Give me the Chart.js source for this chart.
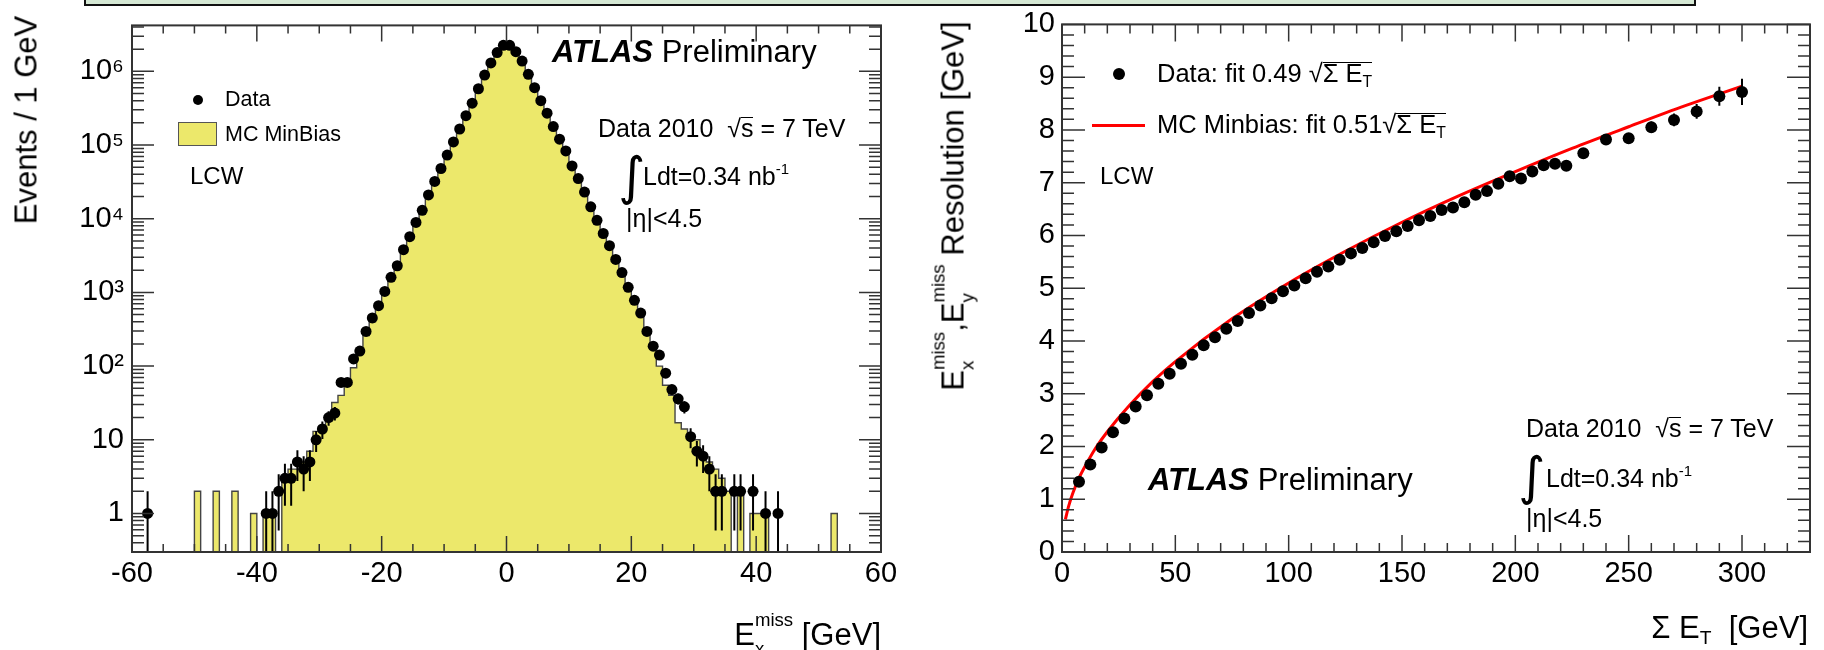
<!DOCTYPE html>
<html><head><meta charset="utf-8">
<script src="https://cdn.jsdelivr.net/npm/chart.js@4.4.1/dist/chart.umd.min.js"></script>
<style>
html,body{margin:0;padding:0;background:#fff;}
#wrap{position:relative;width:1824px;height:650px;overflow:hidden;font-family:"Liberation Sans",Arial,Helvetica,sans-serif;color:#000;}
canvas{position:absolute;top:0;}
.t{position:absolute;white-space:nowrap;line-height:1;}
.rot{transform:translate(-50%,-50%) rotate(-90deg);}
.ss{display:inline-block;position:relative;font-size:0.6em;line-height:1;}
.ss .u{position:relative;top:-1.02em;}
.ss .d{position:absolute;left:0;top:0.54em;}
.sb{font-size:0.62em;position:relative;top:0.32em;}
.sp{font-size:0.6em;position:relative;top:-0.75em;}
.ovl{display:inline-block;border-top:1.5px solid #000;line-height:0.86;padding-top:0;}
.integ{font-family:"DejaVu Sans",sans-serif;}
</style>
</head><body>
<div id="wrap">
<canvas id="c1" width="912" height="650" style="left:0;width:912px;height:650px"></canvas>
<canvas id="c2" width="912" height="650" style="left:912px;width:912px;height:650px"></canvas>

<!-- top band -->
<div style="position:absolute;left:84px;top:-10px;width:1612px;height:16px;box-sizing:border-box;border:2px solid #111;background:#d5e8d4"></div>

<!-- left plot texts -->
<div class="t rot" style="left:26px;top:120px;font-size:31px">Events / 1 GeV</div>
<div class="t" style="right:943px;top:619px;font-size:31px">E<span class="ss"><span class="u">miss</span><span class="d">x</span></span> [GeV]</div>
<div class="t" style="left:552px;top:36px;font-size:31px"><b><i>ATLAS</i></b> Preliminary</div>
<div class="t" style="left:598px;top:116px;font-size:25px">Data 2010 &nbsp;√<span class="ovl">s</span> = 7 TeV</div>
<div class="t integ" style="left:618px;top:150px;font-size:52px">∫</div>
<div class="t" style="left:643px;top:164px;font-size:25px">Ldt=0.34 nb<span class="sp">-1</span></div>
<div class="t" style="left:626px;top:206px;font-size:25px">|η|&lt;4.5</div>
<div style="position:absolute;left:193px;top:95px;width:10px;height:10px;border-radius:50%;background:#000"></div>
<div class="t" style="left:225px;top:89px;font-size:21.5px">Data</div>
<div style="position:absolute;left:178px;top:122px;width:39px;height:24px;box-sizing:border-box;border:1.5px solid #555;background:#ece86b"></div>
<div class="t" style="left:225px;top:124px;font-size:21.5px">MC MinBias</div>
<div class="t" style="left:190px;top:164px;font-size:24px">LCW</div>

<!-- right plot texts -->
<div class="t rot" style="left:953px;top:206px;font-size:31px">E<span class="ss"><span class="u">miss</span><span class="d">x</span></span>,E<span class="ss"><span class="u">miss</span><span class="d">y</span></span> Resolution [GeV]</div>
<div class="t" style="right:16px;top:612px;font-size:31px">Σ E<span class="sb">T</span> &nbsp;[GeV]</div>
<div style="position:absolute;left:1112.5px;top:68px;width:12px;height:12px;border-radius:50%;background:#000"></div>
<div class="t" style="left:1157px;top:61px;font-size:25.5px">Data: fit 0.49 √<span class="ovl">Σ E<span class="sb">T</span></span></div>
<div style="position:absolute;left:1092px;top:123.5px;width:53px;height:3px;background:#ff0000"></div>
<div class="t" style="left:1157px;top:112px;font-size:25.5px">MC Minbias: fit 0.51√<span class="ovl">Σ E<span class="sb">T</span></span></div>
<div class="t" style="left:1100px;top:164px;font-size:24px">LCW</div>
<div class="t" style="left:1148px;top:464px;font-size:31px"><b><i>ATLAS</i></b> Preliminary</div>
<div class="t" style="left:1526px;top:416px;font-size:25px">Data 2010 &nbsp;√<span class="ovl">s</span> = 7 TeV</div>
<div class="t integ" style="left:1518px;top:450px;font-size:52px">∫</div>
<div class="t" style="left:1546px;top:466px;font-size:25px">Ldt=0.34 nb<span class="sp">-1</span></div>
<div class="t" style="left:1526px;top:506px;font-size:25px">|η|&lt;4.5</div>
</div>

<script>
// ---------- Left plot: Ex_miss distribution ----------
const xLeftTicks = [-60, -40, -20, 0, 20, 40, 60];
const yLeftTicks = [1, 10, 100, 1000, 10000, 100000, 1000000];
const yLeftLabels = ['1', '10', '10²', '10³', '10⁴', '10⁵', '10⁶'];

// data points: bin centres and event counts (non-empty bins)
const dataX = [-57.5,
  -38.5, -37.5, -36.5, -35.5, -34.5, -33.5, -32.5, -31.5, -30.5, -29.5,
  -28.5, -27.5, -26.5, -25.5, -24.5, -23.5, -22.5, -21.5, -20.5, -19.5,
  -18.5, -17.5, -16.5, -15.5, -14.5, -13.5, -12.5, -11.5, -10.5, -9.5,
  -8.5, -7.5, -6.5, -5.5, -4.5, -3.5, -2.5, -1.5, -0.5, 0.5,
  1.5, 2.5, 3.5, 4.5, 5.5, 6.5, 7.5, 8.5, 9.5, 10.5,
  11.5, 12.5, 13.5, 14.5, 15.5, 16.5, 17.5, 18.5, 19.5, 20.5,
  21.5, 22.5, 23.5, 24.5, 25.5, 26.5, 27.5, 28.5, 29.5, 30.5,
  31.5, 32.5, 33.5, 34.5, 36.5, 37.5, 39.5, 41.5, 43.5];
const dataY = [1,
  1, 1, 2, 3, 3, 5, 4, 5, 10, 14,
  20, 23, 60, 60, 125, 160, 295, 450, 660, 1030,
  1600, 2300, 3800, 5700, 8900, 13000, 21000, 32000, 48000, 73000,
  110000, 165000, 250000, 370000, 580000, 890000, 1300000, 1800000, 2250000, 2250000,
  1850000, 1380000, 910000, 600000, 400000, 270000, 178000, 120000, 83000, 52000,
  35000, 23000, 14500, 9500, 6300, 4300, 2800, 1860, 1170, 780,
  525, 295, 186, 141, 80, 48, 36, 28, 11, 7,
  6, 4, 2, 2, 2, 2, 2, 1, 1];

// MC histogram: lower bin edges (1 GeV bins) and contents
const mcBinLow = [-60,-59,-58,-57,-56,-55,-54,-53,-52,-51,
  -50,-49,-48,-47,-46,-45,-44,-43,-42,-41,
  -40,-39,-38,-37,-36,-35,-34,-33,-32,-31,
  -30,-29,-28,-27,-26,-25,-24,-23,-22,-21,
  -20,-19,-18,-17,-16,-15,-14,-13,-12,-11,
  -10,-9,-8,-7,-6,-5,-4,-3,-2,-1,
  0,1,2,3,4,5,6,7,8,9,
  10,11,12,13,14,15,16,17,18,19,
  20,21,22,23,24,25,26,27,28,29,
  30,31,32,33,34,35,36,37,38,39,
  40,41,42,43,44,45,46,47,48,49,
  50,51,52,53,54,55,56,57,58,59];
const mcCounts = [0,0,0,0,0,0,0,0,0,0,
  2,0,0,2,0,0,2,0,0,1,
  0,1,1,0,3,4,4,5,7,13,
  13,18,32,40,62,95,150,260,400,620,
  960,1500,2250,3600,5500,8500,12800,20000,31000,47000,
  71000,107000,160000,245000,365000,570000,880000,1300000,1800000,2200000,
  2200000,1820000,1350000,900000,590000,390000,262000,172000,116000,80000,
  51000,34000,22500,14000,9200,6100,4100,2700,1800,1150,
  750,500,300,190,100,55,40,17,14,11,
  10,6,5,4,3,2,0,2,0,1,
  1,1,0,0,0,0,0,0,0,0,
  0,0,1,0,0,0,0,0,0,0];
const mcUpperEdge = 60;

// ---------- Right plot: resolution vs sum ET ----------
const xRightTicks = [0, 50, 100, 150, 200, 250, 300];
const yRightTicks = [0, 1, 2, 3, 4, 5, 6, 7, 8, 9, 10];
const resX = [7.5, 12.5, 17.5, 22.5, 27.5, 32.5, 37.5, 42.5, 47.5, 52.5,
  57.5, 62.5, 67.5, 72.5, 77.5, 82.5, 87.5, 92.5, 97.5, 102.5,
  107.5, 112.5, 117.5, 122.5, 127.5, 132.5, 137.5, 142.5, 147.5, 152.5,
  157.5, 162.5, 167.5, 172.5, 177.5, 182.5, 187.5, 192.5, 197.5, 202.5,
  207.5, 212.5, 217.5, 222.5, 230, 240, 250, 260, 270, 280, 290, 300];
const resY = [1.33, 1.66, 1.98, 2.27, 2.53, 2.76, 2.97, 3.19, 3.38, 3.57,
  3.74, 3.92, 4.07, 4.23, 4.38, 4.53, 4.67, 4.81, 4.94, 5.05,
  5.19, 5.31, 5.41, 5.54, 5.66, 5.76, 5.87, 5.99, 6.08, 6.18,
  6.29, 6.37, 6.48, 6.53, 6.63, 6.77, 6.84, 6.98, 7.12, 7.08,
  7.21, 7.33, 7.36, 7.32, 7.56, 7.82, 7.84, 8.05, 8.19, 8.35, 8.64, 8.72];
const resErr = [0.03, 0.03, 0.03, 0.03, 0.03, 0.03, 0.03, 0.03, 0.03, 0.03,
  0.03, 0.03, 0.03, 0.03, 0.03, 0.03, 0.03, 0.03, 0.03, 0.03,
  0.03, 0.03, 0.03, 0.03, 0.03, 0.03, 0.03, 0.03, 0.03, 0.03,
  0.04, 0.04, 0.04, 0.04, 0.05, 0.05, 0.05, 0.05, 0.06, 0.06,
  0.06, 0.07, 0.07, 0.08, 0.08, 0.09, 0.1, 0.11, 0.12, 0.14, 0.18, 0.25];
// MC fit curve
const fitX = [1.5, 3, 5, 7.5, 10, 15, 20, 30, 40, 50, 75, 100, 125, 150, 175, 200, 225, 250, 275, 300];
const fitY = [0.62, 0.88, 1.14, 1.40, 1.61, 1.98, 2.28, 2.79, 3.23, 3.61, 4.42, 5.10, 5.70, 6.25, 6.75, 7.21, 7.65, 8.06, 8.46, 8.83];

// ---------- plugins ----------
Chart.defaults.font.family = '"Liberation Sans", Arial, Helvetica, sans-serif';
Chart.defaults.color = '#000';

const framePlugin = {
  id: 'rootFrame',
  afterDraw(chart, args, o) {
    const {ctx, chartArea: a, scales: {x, y}} = chart;
    ctx.save();
    ctx.strokeStyle = '#333';
    ctx.lineWidth = 1.5;
    ctx.beginPath();
    const xt = (vals, len) => vals.forEach(v => {
      const p = x.getPixelForValue(v);
      if (p < a.left - 0.5 || p > a.right + 0.5) return;
      ctx.moveTo(p, a.bottom); ctx.lineTo(p, a.bottom - len);
      ctx.moveTo(p, a.top); ctx.lineTo(p, a.top + len);
    });
    const yt = (vals, len) => vals.forEach(v => {
      const p = y.getPixelForValue(v);
      if (p < a.top - 0.5 || p > a.bottom + 0.5) return;
      ctx.moveTo(a.left, p); ctx.lineTo(a.left + len, p);
      ctx.moveTo(a.right, p); ctx.lineTo(a.right - len, p);
    });
    xt(o.xMajor, o.xMajLen); xt(o.xMinor, o.xMinLen);
    yt(o.yMajor, o.yMajLen); yt(o.yMinor, o.yMinLen);
    ctx.stroke();
    ctx.lineWidth = 2;
    ctx.strokeRect(a.left, a.top, a.right - a.left, a.bottom - a.top);
    ctx.restore();
  }
};

const errPlugin = {
  id: 'errBars',
  afterDatasetsDraw(chart, args, o) {
    const {ctx, chartArea: a, scales: {y}} = chart;
    const meta = chart.getDatasetMeta(0);
    const ds = chart.data.datasets[0].data;
    ctx.save();
    ctx.strokeStyle = '#000';
    ctx.lineWidth = 2;
    ctx.beginPath();
    meta.data.forEach((pt, i) => {
      const v = ds[i].y, e = o.err(v, i);
      let pHi = y.getPixelForValue(v + e);
      let pLo = (v - e) > y.min ? y.getPixelForValue(v - e) : a.bottom;
      pHi = Math.max(pHi, a.top); pLo = Math.min(pLo, a.bottom);
      ctx.moveTo(pt.x, pLo); ctx.lineTo(pt.x, pHi);
    });
    ctx.stroke();
    ctx.restore();
  }
};

// minor tick positions (axis decoration)
const lxMinor = []; for (let v = -60; v <= 60; v += 5) if (v % 20 !== 0) lxMinor.push(v);
const lyMinor = []; for (let d = 0.1; d < 1e7; d *= 10) for (let m = 2; m <= 9; m++) lyMinor.push(+(m * d).toPrecision(3));
const rxMinor = []; for (let v = 0; v <= 330; v += 10) if (v % 50 !== 0) rxMinor.push(v);
const ryMinor = []; for (let k = 0; k <= 50; k++) if (k % 5 !== 0) ryMinor.push(k / 5);

const mcPoints = mcBinLow.map((x, i) => ({x, y: mcCounts[i] > 0 ? mcCounts[i] : 1e-3}));
mcPoints.push({x: mcUpperEdge, y: mcPoints[mcPoints.length - 1].y});

const tickFont = {size: 29};

new Chart(document.getElementById('c1'), {
  type: 'scatter',
  data: {datasets: [
    {label: 'Data', data: dataX.map((x, i) => ({x, y: dataY[i]})), pointRadius: 5.5, pointHoverRadius: 5.5,
     pointBackgroundColor: '#000', pointBorderWidth: 0, order: 0},
    {type: 'line', label: 'MC MinBias', data: mcPoints, showLine: true, stepped: true, fill: 'start',
     backgroundColor: '#ece86b', borderColor: '#444', borderWidth: 1.4, pointRadius: 0, order: 1}
  ]},
  options: {
    responsive: false, animation: false, devicePixelRatio: 1,
    layout: {padding: {left: 0, right: 31, top: 14, bottom: 0}},
    plugins: {
      legend: {display: false}, tooltip: {enabled: false},
      rootFrame: {xMajor: xLeftTicks, xMinor: lxMinor, xMajLen: 16, xMinLen: 8,
                  yMajor: yLeftTicks, yMinor: lyMinor, yMajLen: 22, yMinLen: 12},
      errBars: {err: (v) => Math.sqrt(v)}
    },
    scales: {
      x: {type: 'linear', min: -60, max: 60,
          afterBuildTicks: s => { s.ticks = xLeftTicks.map(v => ({value: v})); },
          ticks: {font: tickFont, padding: 5, maxRotation: 0, autoSkip: false, callback: (v) => String(v)},
          grid: {display: false, drawTicks: false}, border: {display: false},
          afterFit: s => { s.height = 98; }},
      y: {type: 'logarithmic', min: 0.3, max: 4.2e6,
          afterBuildTicks: s => { s.ticks = yLeftTicks.map(v => ({value: v})); },
          ticks: {font: tickFont, padding: 8, autoSkip: false, callback: (v, i) => yLeftLabels[i]},
          grid: {display: false, drawTicks: false}, border: {display: false},
          afterFit: s => { s.width = 132; }}
    }
  },
  plugins: [framePlugin, errPlugin]
});

new Chart(document.getElementById('c2'), {
  type: 'scatter',
  data: {datasets: [
    {label: 'Data', data: resX.map((x, i) => ({x, y: resY[i]})), pointRadius: 6, pointHoverRadius: 6,
     pointBackgroundColor: '#000', pointBorderWidth: 0, order: 0},
    {type: 'line', label: 'MC Minbias', data: fitX.map((x, i) => ({x, y: fitY[i]})), showLine: true,
     borderColor: '#ff0000', borderWidth: 3, pointRadius: 0, cubicInterpolationMode: 'monotone', fill: false, order: 1}
  ]},
  options: {
    responsive: false, animation: false, devicePixelRatio: 1,
    layout: {padding: {left: 0, right: 14, top: 14, bottom: 0}},
    plugins: {
      legend: {display: false}, tooltip: {enabled: false},
      rootFrame: {xMajor: xRightTicks, xMinor: rxMinor, xMajLen: 17, xMinLen: 9,
                  yMajor: yRightTicks, yMinor: ryMinor, yMajLen: 23, yMinLen: 12},
      errBars: {err: (v, i) => resErr[i]}
    },
    scales: {
      x: {type: 'linear', min: 0, max: 330,
          afterBuildTicks: s => { s.ticks = xRightTicks.map(v => ({value: v})); },
          ticks: {font: tickFont, padding: 5, maxRotation: 0, autoSkip: false, callback: (v) => String(v)},
          grid: {display: false, drawTicks: false}, border: {display: false},
          afterFit: s => { s.height = 98; }},
      y: {type: 'linear', min: 0, max: 10,
          afterBuildTicks: s => { s.ticks = yRightTicks.map(v => ({value: v})); },
          ticks: {font: tickFont, padding: 7, autoSkip: false, callback: (v) => String(v)},
          grid: {display: false, drawTicks: false}, border: {display: false},
          afterFit: s => { s.width = 150; }}
    }
  },
  plugins: [framePlugin, errPlugin]
});
</script>
</body></html>
